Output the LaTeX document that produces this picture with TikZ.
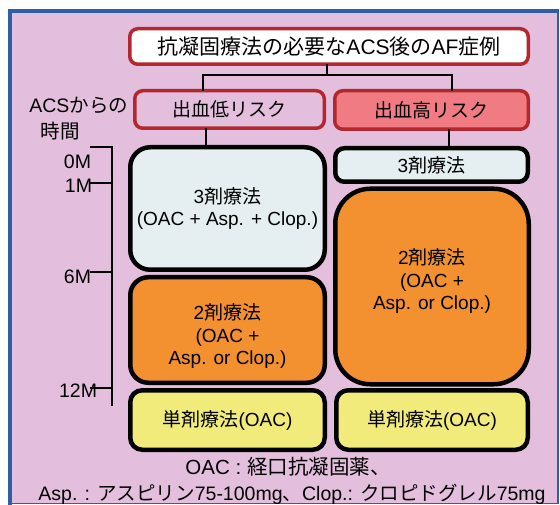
\documentclass[tikz,border=0pt]{standalone}
\usepackage{fontspec}
\setmainfont{Liberation Sans}
\newfontfamily\jp{Noto Sans CJK JP}
\newcommand\J[1]{{\jp #1}}
\definecolor{bgpink}{HTML}{E3BFDD}
\definecolor{panelblue}{HTML}{2F5DA8}
\definecolor{redline}{HTML}{B3282E}
\definecolor{highfill}{HTML}{F07B82}
\definecolor{lightfill}{HTML}{E5EEF0}
\definecolor{orangefill}{HTML}{F39131}
\definecolor{yellowfill}{HTML}{F0EB7A}
\tikzset{
  redbox/.style={draw=redline, line width=3.5pt, rounded corners=8pt, inner sep=0pt, outer sep=0pt, align=center, font=\fontsize{19}{22}\selectfont},
  blackbox/.style={draw=black, line width=4.5pt, inner sep=0pt, outer sep=0pt, align=center, font=\fontsize{19}{22}\selectfont},
  conn/.style={draw=black, line width=1.4pt},
  axis/.style={draw=black, line width=1.6pt},
  lbl/.style={inner sep=0pt, outer sep=0pt, font=\fontsize{19.5}{22}\selectfont}
}
\begin{document}
\begin{tikzpicture}[x=1pt,y=-1pt]
\useasboundingbox (0,0) rectangle (560,505);
\fill[white] (0,0) rectangle (560,505);
% panel
\fill[bgpink] (9,11) rectangle (558,504);
\draw[panelblue, line width=1.2pt] (558,11) -- (558,503.5) -- (9,503.5);
\draw[panelblue, line width=4pt] (9.5,505) -- (9.5,11) -- (558.5,11);

% header boxes
\node[redbox, fill=white, minimum width=398.5pt, minimum height=35.5pt, font=\fontsize{21}{24}\selectfont] (title) at (329,46.5)
  {\J{抗凝固療法の必要な}ACS\J{後の}AF\J{症例}};
\node[redbox, fill=bgpink, minimum width=189.5pt, minimum height=37.5pt] (low) at (229.5,109.5)
  {\J{出血低リスク}};
\node[redbox, fill=highfill, minimum width=193.5pt, minimum height=38.5pt] (high) at (431.5,110)
  {\J{出血高リスク}};

% left column
\node[blackbox, fill=lightfill, rounded corners=20pt, minimum width=194.5pt, minimum height=122.5pt] (triL) at (227.5,208.5)
  {3\J{剤療法}\\(OAC + Asp. + Clop.)};
\node[blackbox, fill=orangefill, rounded corners=18pt, minimum width=194.5pt, minimum height=105.5pt] (orgL) at (227.5,330) {};
\node[lbl, align=center, font=\fontsize{19}{22.5}\selectfont] (orgLt) at (227.5,336) {2\J{剤療法}\\(OAC +\\Asp. or Clop.)};
\node[blackbox, fill=yellowfill, rounded corners=12pt, minimum width=194.5pt, minimum height=59.5pt] (monoL) at (227.5,420)
  {\J{単剤療法}(OAC)};

% right column
\node[blackbox, fill=lightfill, rounded corners=9pt, minimum width=192.5pt, minimum height=33.5pt] (triR) at (431.5,165)
  {3\J{剤療法}};
\node[blackbox, fill=orangefill, rounded corners=35pt, minimum width=193.5pt, minimum height=195.5pt] (orgR) at (432,286.5) {};
\node[lbl, align=center, font=\fontsize{19}{22.5}\selectfont] (orgRt) at (432,281) {2\J{剤療法}\\(OAC +\\Asp. or Clop.)};
\node[blackbox, fill=yellowfill, rounded corners=12pt, minimum width=191.5pt, minimum height=59.5pt] (monoR) at (432,420)
  {\J{単剤療法}(OAC)};

% connectors
\coordinate (jL) at (203,75);
\coordinate (jR) at (452,75);
\coordinate (cL) at (206,0);
\coordinate (cR) at (449,0);
\draw[conn] (title.south -| 327,0) -- (327,75);
\draw[conn] (jL |- low.north) -- (jL) -- (jR) -- (jR |- high.north);
\draw[conn] (cL |- low.south) -- (cL |- triL.north);
\draw[conn] (cR |- high.south) -- (cR |- triR.north);

% time axis
\node[lbl, anchor=east] (acs) at (128,105) {ACS\J{からの}};
\node[lbl] (jikan) at (60,131) {\J{時間}};
\coordinate (t0) at (90,147);
\coordinate (t1) at (90,183);
\coordinate (t6) at (90,272);
\coordinate (t12) at (90,388);
\coordinate (tend) at (112,406);
\draw[axis] (t0) -- (tend |- t0) -- (tend);
\draw[axis] (t1) -- (tend |- t1);
\draw[axis] (t6) -- (tend |- t6);
\draw[axis] (t12) -- (tend |- t12);
\node[lbl, anchor=east] (m0) at (91,162) {0M};
\node[lbl, anchor=east] (m1) at (92,186) {1M};
\node[lbl, anchor=east] (m6) at (91,277) {6M};
\node[lbl, anchor=east] (m12) at (97,391) {12M};

% footnote
\node[lbl, font=\fontsize{20.5}{23}\selectfont] (note1) at (288,467) {OAC : \J{経口抗凝固薬、}};
\node[lbl] (note2) at (292,494) {Asp. : \J{アスピリン}75-100mg\J{、}Clop.: \J{クロピドグレル}75mg};
\end{tikzpicture}
\end{document}
